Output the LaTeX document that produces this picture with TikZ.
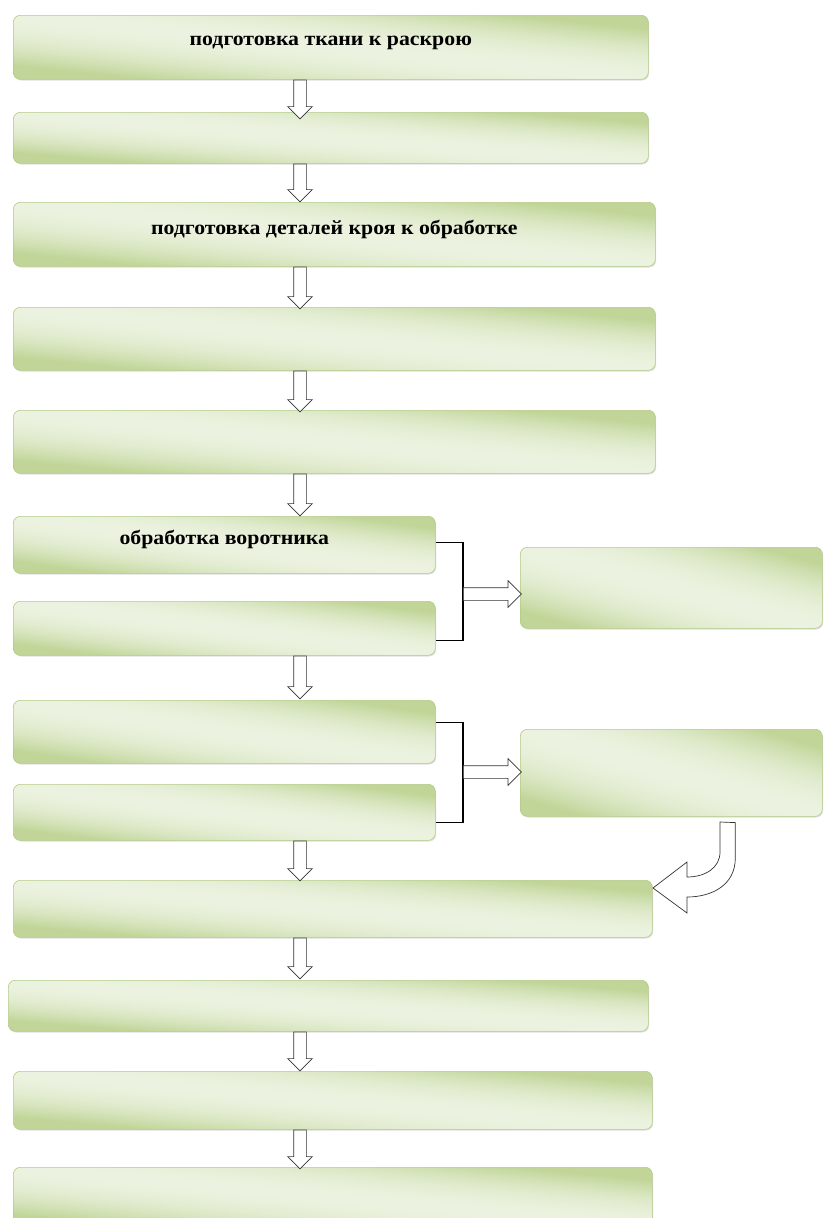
\documentclass[tikz,border=0pt]{standalone}
\usepackage{fontspec}
\setmainfont{Liberation Serif}
\usepackage{tikz}
\usetikzlibrary{shapes.arrows,shadows}
\definecolor{gline}{HTML}{B3CB86}
% light band from upper left to lower right, dark corners
\pgfdeclarefunctionalshading{greenband}{\pgfpointorigin}{\pgfpoint{100bp}{100bp}}{}{
	add 100 sub abs 50 div dup mul 1.6 mul dup 1 gt {pop 1} if
	dup dup -0.283 mul 0.875 add exch -0.114 mul 0.949 add exch
	3 2 roll -0.169 mul 0.922 add 3 1 roll
}

\begin{document}
\begin{tikzpicture}[x=1pt,y=-1pt]
			\tikzstyle{stage}=[draw=gline,line width=0.6pt,rectangle,rounded corners=7pt,anchor=north west,
				shading=greenband,shading angle=0,
				drop shadow={shadow xshift=0.8pt,shadow yshift=-1.2pt,opacity=0.25},
				font=\fontsize{20}{23}\selectfont\bfseries\addfontfeature{FakeStretch=1.09},text depth=14pt,inner sep=0pt]
			\tikzstyle{wide}=[stage,minimum width=635pt]
			\tikzstyle{half}=[stage,minimum width=422pt]
			\tikzstyle{side}=[stage,minimum width=302pt]
			\tikzstyle{blockarrow}=[single arrow,draw=black!80,fill=white,line width=0.7pt,anchor=tail,
				inner sep=6pt,single arrow head extend=6pt,minimum height=38pt]
			\tikzstyle{bracket}=[draw=black,line width=1.3pt]

			\useasboundingbox (0,0) rectangle (823,1218);

			\node[wide,minimum height=64pt] (s1) at (13,15) {подготовка ткани к раскрою};
			\node[wide,minimum height=51pt] (s2) at (13,112) {};
			\node[wide,minimum width=642pt,minimum height=64pt] (s3) at (13,202) {подготовка деталей кроя к обработке};
			\node[wide,minimum width=642pt,minimum height=63pt] (s4) at (13,307) {};
			\node[wide,minimum width=642pt,minimum height=63pt] (s5) at (13,410) {};

			\node[half,minimum height=57pt] (s6) at (13,516) {обработка воротника};
			\node[half,minimum height=54pt] (s7) at (13,601) {};
			\node[side,minimum height=81pt] (sa) at (520,547) {};

			\node[half,minimum height=63pt] (s8) at (13,700) {};
			\node[half,minimum height=56pt] (s9) at (13,784) {};
			\node[side,minimum height=87pt] (sb) at (520,729) {};

			\node[wide,minimum width=639pt,minimum height=57pt] (s10) at (13,880) {};
			\node[wide,minimum width=640pt,minimum height=51pt] (s11) at (8,980) {};
			\node[wide,minimum width=639pt,minimum height=58pt] (s12) at (13,1071) {};
			\node[wide,minimum width=639pt,minimum height=60pt] (s13) at (13,1167) {};

			\coordinate (ax) at (300,0);
			\coordinate (k1) at (463,594);
			\coordinate (k2) at (463,772);

			% down arrows
			\node[blockarrow,rotate=-90,minimum height=39pt] (a1) at (s1.south -| ax) {};
			\node[blockarrow,rotate=-90] (a2) at (s2.south -| ax) {};
			\node[blockarrow,rotate=-90,minimum height=42pt] (a3) at (s3.south -| ax) {};
			\node[blockarrow,rotate=-90,minimum height=41pt] (a4) at (s4.south -| ax) {};
			\node[blockarrow,rotate=-90,minimum height=42pt] (a5) at (s5.south -| ax) {};
			\node[blockarrow,rotate=-90,minimum height=43pt] (a6) at (s7.south -| ax) {};
			\node[blockarrow,rotate=-90,minimum height=40pt] (a7) at (s9.south -| ax) {};
			\node[blockarrow,rotate=-90,minimum height=41pt] (a8) at (s10.south -| ax) {};
			\node[blockarrow,rotate=-90,minimum height=39pt] (a9) at (s11.south -| ax) {};
			\node[blockarrow,rotate=-90,minimum height=39pt] (a10) at (s12.south -| ax) {};

			% brackets
			\draw[bracket] ([yshift=2pt]s6.east) -| (k1) |- ([yshift=-12pt]s7.east);
			\draw[bracket] ([yshift=9pt]s8.east) -| (k2) |- ([yshift=-10pt]s9.east);
			\node[blockarrow,minimum height=58pt,single arrow head extend=7pt] (r1) at (k1) {};
			\node[blockarrow,minimum height=58pt,single arrow head extend=7pt] (r2) at (k2) {};

			% bent arrow
			\draw[draw=black!80,fill=white,line width=0.7pt,line join=miter]
				([xshift=64pt,yshift=-6pt]sb.south) coordinate (c1) -- ++(0,36)
				.. controls (735,885) and (712,897) .. (687,897) -- (687,913) -- (653,888) -- (687,862) -- (687,877)
				.. controls (705,877) and (720,868) .. (720,852) -- (720,822) -- cycle;

		\end{tikzpicture}
\end{document}
